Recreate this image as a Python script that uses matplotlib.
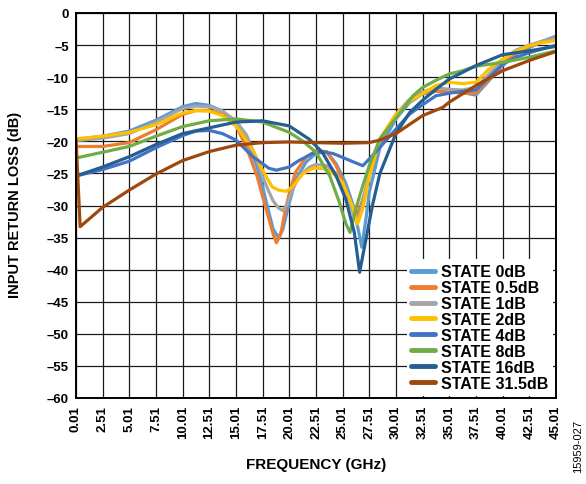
import matplotlib
matplotlib.use("Agg")
import matplotlib.pyplot as plt

plt.rcParams['font.family'] = ['Liberation Sans', 'DejaVu Sans']

# Input return loss (dB) versus frequency (GHz) for each attenuation state
freq_0db = [0.01, 2.5, 5, 7.5, 10, 11.25, 12.5, 13.75, 15, 16, 17, 17.5, 18, 18.5, 19.0,
            19.4, 20.0, 20.6, 21.6, 22.5, 23.5, 24.4, 25.3, 26.0, 26.5, 26.8, 27.2, 27.5,
            28.5, 30, 31.25, 32.5, 33.75, 35, 36.25, 37.5, 38.75, 40, 41.25, 42.5, 43.75, 45.01]
loss_0db = [-19.7, -19.2, -18.4, -16.7, -14.6, -14.1, -14.4, -15.3, -17.1, -19.8, -24.0, -27.0,
            -30.5, -33.7, -35.0, -33.7, -29.6, -26.0, -23.2, -21.9, -21.6, -23.5, -26.5, -30.0,
            -34.0, -36.5, -32.0, -28.0, -21.0, -16.5, -14.0, -12.6, -12.2, -12.2, -12.4, -12.8,
            -10.5, -8.2, -6.4, -5.4, -4.4, -3.6]

freq_05db = [0.01, 2.5, 5, 7.5, 10, 11.25, 12.5, 13.75, 15, 16, 17, 17.5, 18, 18.5, 18.8, 19.2,
             19.6, 20.0, 20.6, 21.6, 22.5, 23.5, 24.4, 25.3, 25.9, 26.25, 26.6, 27.0, 27.5, 28.5,
             30, 31.25, 32.5, 33.75, 35, 36.25, 37.5, 38.75, 40, 41.25, 42.5, 43.75, 45.01]
loss_05db = [-20.8, -20.8, -20.2, -18.2, -15.8, -15.2, -15.2, -15.8, -17.5, -21.0, -25.5, -28.6,
             -31.5, -34.5, -35.8, -34.5, -31.0, -28.1, -24.8, -22.4, -21.5, -21.6, -23.8, -27.4,
             -30.5, -31.6, -30.5, -28.5, -25.4, -20.0, -16.0, -13.8, -12.5, -12.2, -12.3, -12.5,
             -12.5, -10.3, -8.0, -6.2, -5.2, -4.4, -3.9]

freq_1db = [0.01, 2.5, 5, 7.5, 10, 11.25, 12.5, 13.75, 15, 16, 17, 17.5, 18, 18.5, 19.0, 19.4,
            19.8, 20.3, 20.9, 21.9, 22.5, 23.5, 24.4, 25.0, 25.6, 26.0, 26.3, 26.7, 27.1, 27.5,
            28.5, 30, 31.25, 32.5, 33.75, 35, 36.25, 37.5, 38.75, 40, 41.25, 42.5, 43.75, 45.01]
loss_1db = [-19.9, -19.5, -18.8, -17.0, -14.9, -14.5, -14.6, -15.3, -16.8, -19.0, -23.0, -25.5,
            -27.5, -29.3, -30.4, -30.8, -29.8, -27.6, -25.5, -24.0, -23.6, -23.8, -25.0, -27.0,
            -29.3, -31.3, -32.5, -31.0, -28.0, -25.0, -19.8, -15.8, -13.5, -12.3, -11.6, -11.9,
            -12.0, -11.6, -9.5, -7.3, -5.8, -5.0, -4.4, -3.9]

freq_2db = [0.01, 2.5, 5, 7.5, 10, 11.25, 12.5, 13.75, 15, 15.4, 16.6, 17.5, 18.4, 19.0, 19.7,
            20.3, 21.3, 22.2, 23.1, 24.1, 25.0, 25.9, 26.4, 26.9, 27.5, 28.5, 30, 31.25, 32.5,
            33.75, 35, 36.25, 37.5, 38.75, 40, 41.25, 42.5, 43.75, 45.01]
loss_2db = [-19.6, -19.2, -18.6, -17.4, -15.6, -15.2, -15.3, -16.0, -17.6, -18.5, -21.4, -24.5,
            -27.1, -27.6, -27.8, -27.1, -25.0, -24.2, -24.2, -25.0, -26.4, -30.0, -32.9, -30.5,
            -25.5, -19.6, -15.8, -13.8, -12.6, -11.3, -10.8, -11.0, -10.8, -8.7, -7.2, -6.0,
            -5.1, -4.6, -4.3]

freq_4db = [0.01, 2.5, 5, 7.5, 10, 11.25, 12.5, 13.75, 15, 16.6, 18.1, 18.8, 20.0, 20.9, 22.2,
            23.1, 24.1, 25.0, 26.0, 26.9, 28.1, 29.0, 30, 31.25, 32.5, 33.75, 35, 36.25, 37.5,
            38.75, 40, 41.25, 42.5, 43.75, 45.01]
loss_4db = [-25.4, -24.4, -23.1, -21.0, -19.1, -18.4, -18.3, -18.8, -19.8, -22.4, -24.2, -24.5,
            -24.0, -23.0, -21.9, -21.6, -21.9, -22.5, -23.2, -23.8, -21.7, -20.0, -18.1, -15.8,
            -14.3, -12.9, -12.5, -12.2, -12.0, -10.0, -8.0, -6.9, -6.2, -5.6, -5.0]

freq_8db = [0.01, 2.5, 5, 7.5, 10, 12.5, 15, 17.5, 20.0, 21.3, 22.5, 23.8, 24.7, 25.3, 25.7,
            26.25, 26.9, 27.5, 28.5, 30, 31.6, 32.5, 33.75, 35, 36.25, 37.5, 40, 42.5, 45.01]
loss_8db = [-22.6, -21.7, -20.8, -19.2, -17.7, -16.8, -16.5, -17.0, -18.6, -20.0, -21.7, -25.4,
            -29.5, -32.8, -34.2, -30.5, -26.9, -23.8, -19.6, -16.4, -12.9, -11.6, -10.5, -9.5,
            -9.0, -8.3, -7.7, -6.9, -5.9]

freq_16db = [0.01, 2.5, 5, 7.5, 10, 12.5, 15, 17.5, 20.0, 21.9, 23.1, 24.4, 25.3, 26.1, 26.6,
             27.2, 27.8, 28.5, 30, 31.3, 32.5, 33.75, 35, 37.5, 40, 42.5, 45.01]
loss_16db = [-25.4, -24.0, -22.4, -20.5, -18.8, -17.9, -17.0, -16.8, -17.6, -19.7, -21.7, -25.4,
             -29.0, -34.2, -40.4, -35.2, -30.0, -25.0, -18.8, -15.5, -13.6, -11.9, -10.3, -8.2,
             -6.5, -5.9, -5.2]

freq_315db = [0.01, 0.4, 2.5, 5, 7.5, 10, 12.5, 15, 17.5, 20, 22.5, 25, 27.5, 28.5, 30, 32.5,
              34.4, 35, 37.5, 40, 42.5, 45.01]
loss_315db = [-19.6, -33.3, -30.3, -27.6, -25.1, -23.0, -21.6, -20.6, -20.2, -20.1, -20.2, -20.3,
              -20.2, -19.8, -18.8, -16.0, -14.7, -13.9, -11.3, -9.0, -7.4, -6.0]

state_labels = ["STATE 0dB", "STATE 0.5dB", "STATE 1dB", "STATE 2dB",
                "STATE 4dB", "STATE 8dB", "STATE 16dB", "STATE 31.5dB"]
state_colors = ["#5B9BD5", "#ED7D31", "#A5A5A5", "#FFC000",
                "#4472C4", "#70AD47", "#255E91", "#9E480E"]

x_ticks = [0.01 + 2.5 * i for i in range(19)]
y_ticks = list(range(-60, 1, 5))

series = [(freq_0db, loss_0db), (freq_05db, loss_05db), (freq_1db, loss_1db),
          (freq_2db, loss_2db), (freq_4db, loss_4db), (freq_8db, loss_8db),
          (freq_16db, loss_16db), (freq_315db, loss_315db)]

fig = plt.figure(figsize=(5.86, 4.85), dpi=100)
ax = fig.add_axes([76 / 586, 86 / 485, 480 / 586, 385 / 485])

for (f, v), lab, col in zip(series, state_labels, state_colors):
    ax.plot(f, v, color=col, lw=2.3, label=lab, solid_joinstyle='round',
            solid_capstyle='round')

ax.set_xlim(0.01, 45.01)
ax.set_ylim(-60, 0)
ax.set_xticks(x_ticks)
ax.set_xticklabels([f"{t:.2f}" for t in x_ticks], rotation=90, fontsize=9.5,
                   fontweight='bold')
ax.set_yticks(y_ticks)
ax.set_yticklabels([("\u2013" + str(-t)) if t < 0 else str(t) for t in y_ticks],
                   fontsize=9.5, fontweight='bold')
ax.tick_params(axis='both', length=0, pad=5)
ax.grid(True, color='#1a1a1a', lw=0.9)
ax.set_axisbelow(True)
for sp in ax.spines.values():
    sp.set_linewidth(1.4)
    sp.set_color('black')

ax.set_xlabel("FREQUENCY (GHz)", fontsize=11, fontweight='bold')
ax.xaxis.set_label_coords(0.5, -0.152)
ax.set_ylabel("INPUT RETURN LOSS (dB)", fontsize=10.5, fontweight='bold')
ax.yaxis.set_label_coords(-0.112, 0.505)

leg = ax.legend(loc='lower right', bbox_to_anchor=(0.994, 0.006), borderaxespad=0,
                frameon=True, fancybox=False, framealpha=1, edgecolor='none',
                prop={'size': 11.5, 'weight': 'bold'}, handlelength=1.5,
                handletextpad=0.35, labelspacing=0.06, borderpad=0.3)
for h in leg.get_lines():
    h.set_linewidth(3.5)

fig.text(578 / 586, 1 - 447 / 485, "15959-027", rotation=90, fontsize=8,
         ha='center', va='center')

fig.savefig("out.png", dpi=100)
